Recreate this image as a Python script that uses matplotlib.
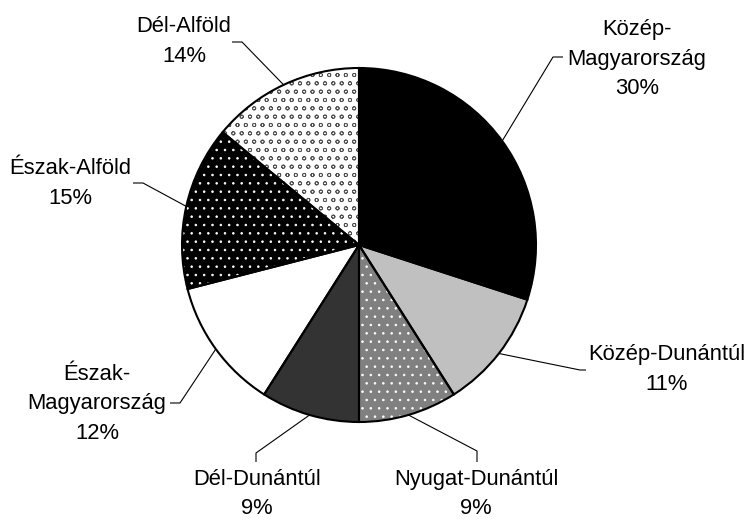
import numpy as np
import matplotlib
matplotlib.use("Agg")
import matplotlib.pyplot as plt

# ---- data ----
regions = ["Közép-\nMagyarország", "Közép-Dunántúl", "Nyugat-Dunántúl",
           "Dél-Dunántúl", "Észak-\nMagyarország", "Észak-Alföld", "Dél-Alföld"]
shares = [30, 11, 9, 9, 12, 15, 14]

# ---- styles ----
face_colors = ["#000000", "#c0c0c0", "#808080", "#333333", "#ffffff", "#000000", "#ffffff"]
hatches = [None, None, "..", None, None, "..", "oo"]
hatch_colors = ["#000000", "#c0c0c0", "#ffffff", "#333333", "#ffffff", "#ffffff", "#505050"]

# label layout (pixel coordinates, y down): text centre x, first baseline y,
# elbow point, end of the short stub
label_x = [637, 667, 476, 257, 97, 70, 184]
label_base = [35, 360, 485, 485, 380, 174, 32]
elbows = [(553, 57), (580, 370), (477, 451), (256, 453), (180, 403), (143, 183), (242, 42)]
stubs = [(563, 57), (586, 370), (477, 462), (256, 462), (170, 403), (133, 183), (232, 42)]
line_steps = [29.5, 29.5, 28.5, 28.5, 29.5, 29.5, 29.5]

plt.rcParams["hatch.linewidth"] = 0.6
plt.rcParams["font.family"] = ["Liberation Sans", "DejaVu Sans"]

fig = plt.figure(figsize=(7.46, 5.2), dpi=100)
ax = fig.add_axes([0, 0, 1, 1])

center = (359, 245)
radius = 177

# fill + hatch pass
wedges, _ = ax.pie(shares, colors=face_colors, startangle=-90, counterclock=True,
                   center=center, radius=radius, frame=True,
                   wedgeprops=dict(linewidth=0))
for w, h, hc in zip(wedges, hatches, hatch_colors):
    w.set_edgecolor(hc)
    w.set_linewidth(0)
    if h:
        w.set_hatch(h)

# outline pass
outl, _ = ax.pie(shares, colors=["none"] * len(shares), startangle=-90, counterclock=True,
                 center=center, radius=radius, frame=True,
                 wedgeprops=dict(edgecolor="black", linewidth=1.5, fill=False))

ax.set_xlim(0, 746)
ax.set_ylim(520, 0)
ax.set_aspect("equal")
ax.axis("off")

for w, name, v, lx, lb, el, st, step in zip(wedges, regions, shares, label_x, label_base,
                                            elbows, stubs, line_steps):
    mid = np.deg2rad((w.theta1 + w.theta2) / 2)
    sx = center[0] + radius * np.cos(mid)
    sy = center[1] + radius * np.sin(mid)
    ax.plot([sx, el[0], st[0]], [sy, el[1], st[1]], color="black", linewidth=0.8,
            solid_capstyle="butt")
    lines = name.split("\n") + [f"{v}%"]
    for i, ln in enumerate(lines):
        ax.text(lx, lb + i * step, ln, ha="center", va="baseline",
                fontsize=15.8, color="black")

fig.savefig("out.png", dpi=100)
